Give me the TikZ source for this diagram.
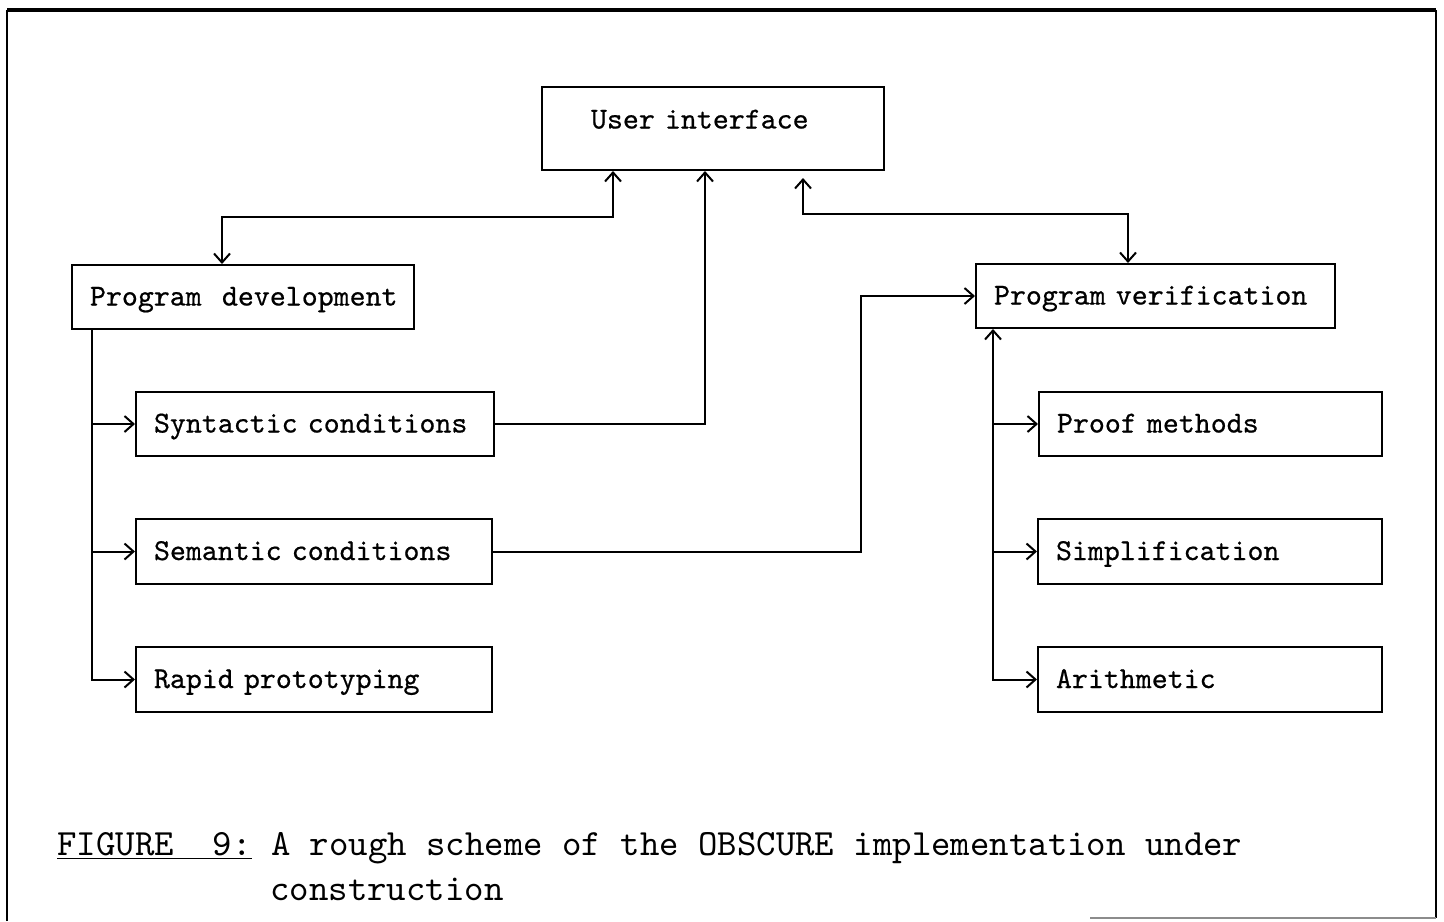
\documentclass[tikz,border=0pt]{standalone}
\usepackage{fontspec}
\newfontfamily\boxfont[FakeBold=0.6]{lmmono10-regular.otf}
\newfontfamily\capfont{lmmono10-regular.otf}
\newcommand{\monospacing}{\fontdimen2\font=0.525em\fontdimen3\font=0pt\fontdimen4\font=0pt}
\usepackage{tikz}
\usetikzlibrary{arrows.meta,calc}
\tikzstyle{block}=[draw,line width=1pt,anchor=west,inner xsep=9pt,inner ysep=0pt,minimum height=32pt,text height=8.5pt,text depth=0pt,align=left,font=\boxfont\fontsize{15.2}{18}\selectfont\monospacing]
\tikzstyle{link}=[draw,line width=1pt,-{Straight Barb[length=4.5pt,width=8pt]}]
\tikzstyle{twoway}=[link,{Straight Barb[length=4.5pt,width=8pt]}-{Straight Barb[length=4.5pt,width=8pt]}]
\tikzstyle{caption}=[anchor=base west,inner sep=0pt,font=\capfont\fontsize{18.5}{22}\selectfont]

\begin{document}
\begin{tikzpicture}[x=0.5pt,y=-0.5pt]
    \useasboundingbox (0,0) rectangle (1444,921);
    % frame
    \draw[line width=1.6pt] (7,10) -- (1436,10);
    \draw[line width=1pt] (7,921) -- (7,10);
    \draw[line width=1pt] (1436,10) -- (1436,918);
    \draw[line width=1pt,black!45] (1090,918) -- (1436,918);
    % boxes
    \node[block,minimum height=41.5pt,inner xsep=24.5pt,text width=122pt,text height=10pt,text depth=10pt] (ui) at (541,128.5) {\mbox{User interface}};
    \node[block,text width=153pt] (pdev) at (71,297) {\mbox{Program\ \ development}};
    \node[block,text width=161pt] (syn) at (135,424) {\mbox{Syntactic conditions}};
    \node[block,text width=160pt,minimum height=32.5pt] (sem) at (135,551.5) {\mbox{Semantic conditions}};
    \node[block,text width=160pt,minimum height=32.5pt] (rapid) at (135,679.5) {\mbox{Rapid prototyping}};
    \node[block,text width=161.5pt] (pver) at (975,296) {\mbox{Program verification}};
    \node[block,text width=153.5pt] (proof) at (1038,424) {\mbox{Proof methods}};
    \node[block,text width=154pt,minimum height=32.5pt] (simp) at (1037,551.5) {Simplification};
    \node[block,text width=154pt,minimum height=32.5pt] (arith) at (1037,679.5) {Arithmetic};
    % connections to the user interface
    \path[twoway] ($(ui.south west)+(72,0)$) -- ++(0,46) -| ($(pdev.north west)+(151,0)$);
    \path[twoway,shorten <=3.5pt] ($(ui.south west)+(262,0)$) -- ++(0,43) -| ($(pver.north west)+(153,0)$);
    \path[link] (syn.east) -| ($(ui.south west)+(164,0)$);
    \path[link] (sem.east) -- ++(368,0) |- (pver.west);
    % development tree
    \coordinate (pdtrunk) at ($(pdev.south west)+(21,0)$);
    \path[link] (pdtrunk) |- (rapid.west);
    \foreach \dest in {syn,sem}
        \path[link] (pdtrunk |- \dest.west) -- (\dest.west);
    % verification tree
    \coordinate (pvtrunk) at ($(pver.south west)+(18,0)$);
    \path[twoway] (pvtrunk) |- (arith.west);
    \foreach \dest in {proof,simp}
        \path[link] (pvtrunk |- \dest.west) -- (\dest.west);
    % caption
    \node[caption] (fig) at (57,855) {\underline{FIGURE\ \ 9:} A rough scheme of the OBSCURE implementation under};
    \node[caption] (figcont) at (270,900) {construction};
\end{tikzpicture}
\end{document}
